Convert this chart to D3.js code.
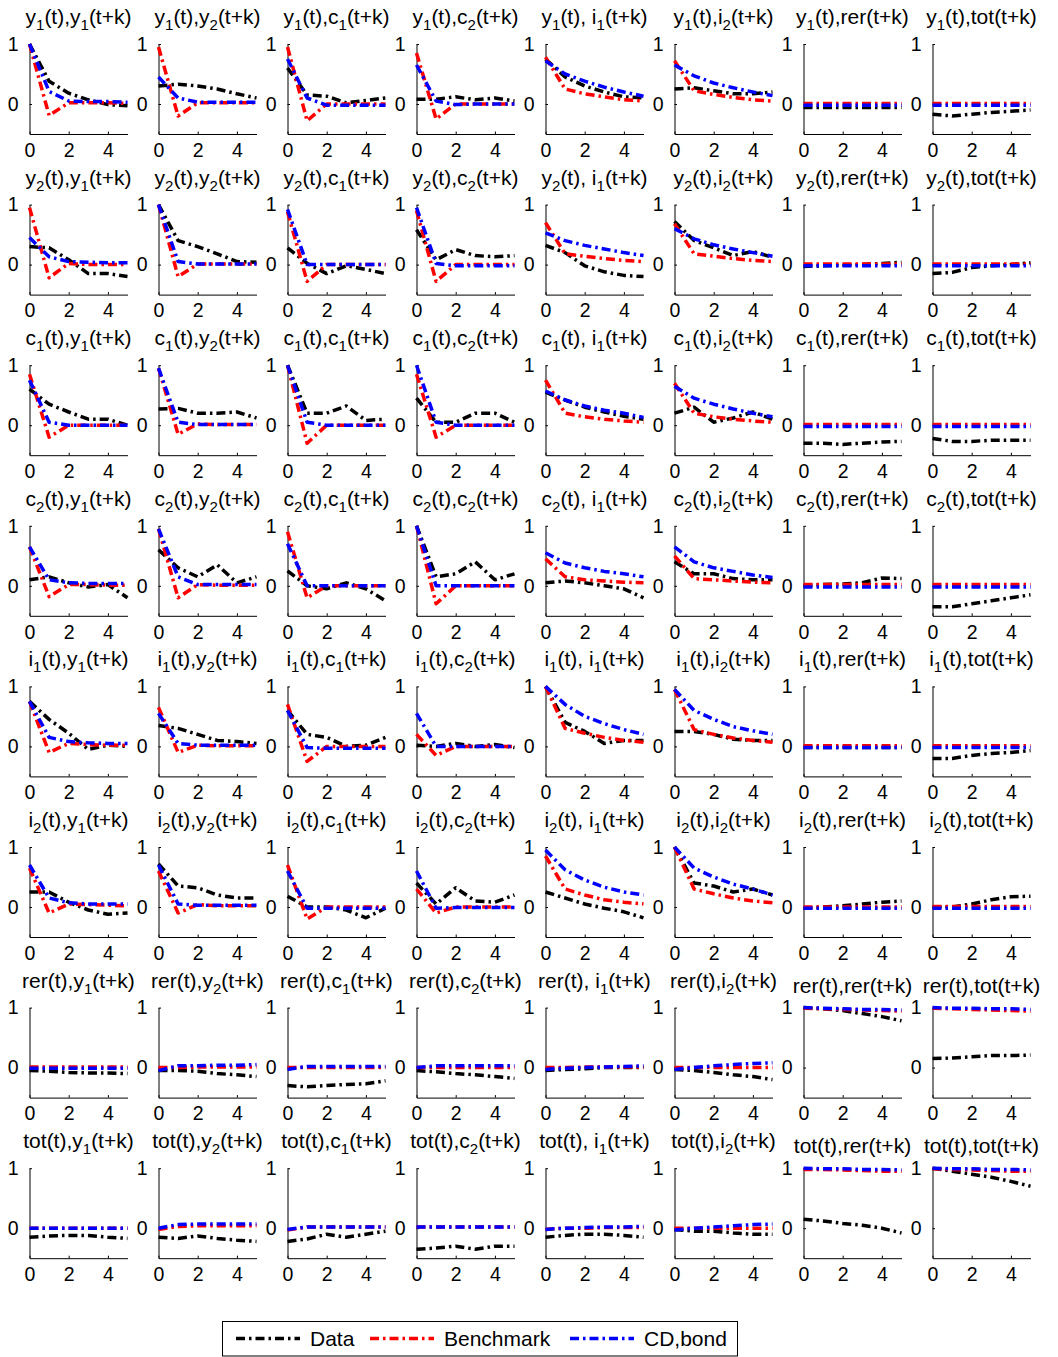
<!DOCTYPE html>
<html><head><meta charset="utf-8">
<script src="https://cdn.jsdelivr.net/npm/d3@7/dist/d3.min.js"></script>
<style>body{margin:0;background:#fff}svg{display:block}text{font-family:"Liberation Sans",Arial,Helvetica,sans-serif}</style>
</head><body><svg id="c" width="1058" height="1357"></svg>
<script>
const varBase = ["y","y","c","c","i","i","rer","tot"];
const varSub  = ["1","2","1","2","1","2","",""];
const kSteps = [0,1,2,3,4,5];
const xTicks = [0,2,4];
const yTicks = [0,1];
const seriesNames = ["Data","Benchmark","CD,bond"];
const seriesColors = ["#000000","#ff0000","#0000ff"];

// Data (black) [row][col] -> values at k=0..5
const dataVals = [
 [[1,0.38,0.18,0.07,-0.01,-0.03],[0.3,0.33,0.3,0.25,0.17,0.1],[0.6,0.15,0.13,0.02,0.06,0.1],[0.08,0.08,0.12,0.07,0.1,0.05],[0.75,0.45,0.3,0.2,0.12,0.1],[0.25,0.27,0.22,0.17,0.17,0.2],[-0.06,-0.06,-0.06,-0.06,-0.06,-0.06],[-0.17,-0.2,-0.17,-0.14,-0.12,-0.1]],
 [[0.3,0.28,0.08,-0.15,-0.15,-0.2],[1,0.4,0.3,0.18,0.05,0.04],[0.28,0.02,-0.15,-0.02,-0.08,-0.15],[0.58,0.08,0.25,0.15,0.13,0.15],[0.32,0.2,-0.02,-0.12,-0.18,-0.2],[0.72,0.4,0.28,0.15,0.22,0.12],[-0.03,-0.02,-0.01,0,0.02,0.04],[-0.15,-0.13,-0.05,-0.02,0,0.03]],
 [[0.6,0.35,0.22,0.1,0.1,0],[0.27,0.28,0.2,0.2,0.22,0.12],[1,0.2,0.2,0.32,0.08,0.1],[0.45,0.05,0.05,0.2,0.2,0.05],[0.55,0.42,0.3,0.22,0.15,0.1],[0.2,0.3,0.05,0.12,0.22,0.1],[-0.3,-0.3,-0.32,-0.3,-0.28,-0.27],[-0.22,-0.27,-0.27,-0.25,-0.25,-0.25]],
 [[0.1,0.15,0.05,-0.02,0.02,-0.2],[0.6,0.3,0.15,0.35,0.05,0.15],[0.25,0,-0.05,0.05,-0.05,-0.25],[1,0.15,0.2,0.4,0.1,0.2],[0.05,0.08,0.05,0,-0.05,-0.2],[0.4,0.2,0.2,0.12,0.1,0.1],[0,0.02,0.03,0.05,0.13,0.12],[-0.35,-0.35,-0.3,-0.25,-0.2,-0.15]],
 [[0.75,0.45,0.22,-0.05,0.02,0],[0.35,0.3,0.2,0.1,0.08,0.05],[0.6,0.2,0.15,0,0.02,0.15],[0.02,0,0.05,0,0.03,-0.02],[1,0.4,0.25,0.05,0.1,0.1],[0.25,0.25,0.2,0.12,0.1,0.1],[-0.02,-0.02,-0.02,-0.02,-0.02,-0.02],[-0.2,-0.2,-0.15,-0.12,-0.1,-0.07]],
 [[0.25,0.25,0.08,-0.05,-0.12,-0.1],[0.72,0.35,0.32,0.2,0.15,0.15],[0.18,0,0,-0.05,-0.18,-0.02],[0.4,0.05,0.32,0.1,0.08,0.2],[0.25,0.15,0.05,-0.02,-0.08,-0.18],[1,0.4,0.35,0.25,0.3,0.2],[-0.02,0,0.02,0.05,0.08,0.1],[0,0,0.05,0.12,0.17,0.18]],
 [[-0.05,-0.06,-0.08,-0.09,-0.09,-0.1],[-0.05,-0.05,-0.06,-0.1,-0.12,-0.15],[-0.3,-0.32,-0.3,-0.28,-0.27,-0.22],[-0.05,-0.07,-0.1,-0.12,-0.15,-0.18],[-0.05,-0.03,-0.02,0,0,0],[-0.03,-0.05,-0.08,-0.12,-0.15,-0.2],[1,0.98,0.95,0.9,0.85,0.78],[0.15,0.16,0.18,0.2,0.2,0.21]],
 [[-0.15,-0.13,-0.12,-0.12,-0.15,-0.17],[-0.15,-0.17,-0.13,-0.17,-0.2,-0.22],[-0.22,-0.18,-0.1,-0.15,-0.1,-0.05],[-0.35,-0.33,-0.3,-0.35,-0.3,-0.3],[-0.15,-0.12,-0.1,-0.1,-0.12,-0.15],[-0.02,-0.05,-0.05,-0.08,-0.1,-0.1],[0.15,0.12,0.08,0.05,0,-0.08],[1,0.95,0.9,0.85,0.78,0.7]]
];
// Benchmark (red)
const benchVals = [
 [[1,-0.19,0.02,0.02,0.02,0.01],[0.95,-0.2,0.02,0.02,0.02,0.02],[0.95,-0.28,0,0,0,0],[0.85,-0.25,0,0,0,0],[0.78,0.25,0.17,0.12,0.07,0.05],[0.72,0.22,0.16,0.11,0.07,0.05],[0.01,0.01,0.01,0.01,0.01,0.01],[0.01,0.01,0.01,0.01,0.01,0.01]],
 [[0.95,-0.22,0.02,0,0,0],[1,-0.2,0.01,0.01,0.01,0.01],[0.88,-0.28,0,0,0,0],[0.9,-0.28,0,0,0,0],[0.7,0.18,0.14,0.1,0.07,0.05],[0.68,0.18,0.14,0.1,0.07,0.05],[0.01,0.01,0.01,0.01,0.01,0.01],[0.01,0.01,0.01,0.01,0.01,0.01]],
 [[0.85,-0.2,0,0,0,0],[0.95,-0.15,0.02,0.01,0.01,0.01],[1,-0.3,0,0,0,0],[0.85,-0.2,0,0,0,0],[0.75,0.2,0.14,0.1,0.07,0.05],[0.7,0.2,0.14,0.1,0.07,0.05],[0.01,0.01,0.01,0.01,0.01,0.01],[0.01,0.01,0.01,0.01,0.01,0.01]],
 [[0.65,-0.18,0.02,0.02,0.01,0.01],[0.95,-0.2,0.02,0.01,0.01,0.01],[0.9,-0.2,0,0,0,0],[1,-0.3,0,0,0,0],[0.45,0.15,0.1,0.08,0.06,0.05],[0.5,0.12,0.1,0.08,0.06,0.05],[0.02,0.02,0.02,0.02,0.02,0.02],[0.02,0.02,0.02,0.02,0.02,0.02]],
 [[0.75,-0.1,0.05,0.03,0.02,0.02],[0.65,-0.1,0.02,0.01,0.01,0.01],[0.7,-0.25,0,0,0,0],[0.2,-0.15,0,0,0,0],[1,0.3,0.22,0.15,0.1,0.07],[0.95,0.28,0.2,0.14,0.1,0.07],[0.01,0.01,0.01,0.01,0.01,0.01],[0.01,0.01,0.01,0.01,0.01,0.01]],
 [[0.65,-0.1,0.05,0.04,0.03,0.02],[0.6,-0.1,0.04,0.02,0.02,0.02],[0.7,-0.2,0,0,0,0],[0.3,-0.1,0,0,0,0],[0.85,0.3,0.2,0.12,0.08,0.05],[1,0.3,0.22,0.15,0.1,0.07],[0,0,0,0,0,0],[0.01,0.01,0.01,0.01,0.01,0.01]],
 [[0.01,0.01,0.01,0.01,0.01,0.01],[0,0,0.01,0.01,0.01,0.01],[0,0,0,0,0,0],[0,0,0,0,0,0],[0,0,0.01,0.01,0.01,0.01],[0,0,0,0,0,0],[0.99,0.98,0.97,0.96,0.95,0.94],[0.99,0.98,0.97,0.96,0.95,0.94]],
 [[0,0,0,0,0,0],[-0.02,0.03,0.04,0.04,0.04,0.04],[-0.03,0.02,0.02,0.02,0.02,0.02],[0.02,0.02,0.02,0.02,0.02,0.02],[-0.02,0,0,0.01,0.01,0.01],[0,0,0,0,0,0],[0.98,0.98,0.97,0.96,0.95,0.95],[0.99,0.98,0.97,0.96,0.95,0.95]]
];
// CD,bond (blue)
const cdVals = [
 [[1,0.21,0.05,0.04,0.04,0.03],[0.45,0.1,0.03,0.03,0.03,0.03],[0.75,0.1,-0.02,-0.02,-0.02,-0.02],[0.65,0.05,-0.01,0,0,0],[0.72,0.5,0.38,0.28,0.2,0.13],[0.65,0.47,0.35,0.27,0.2,0.14],[-0.02,-0.02,-0.02,-0.02,-0.02,-0.02],[-0.02,-0.02,-0.02,-0.02,-0.02,-0.02]],
 [[0.45,0.13,0.05,0.04,0.03,0.03],[1,0.05,0.01,0.01,0.01,0.01],[0.92,0,0,0,0,0],[0.95,0.02,-0.02,-0.02,-0.02,-0.02],[0.53,0.4,0.32,0.26,0.2,0.15],[0.6,0.43,0.33,0.26,0.2,0.14],[-0.02,-0.02,-0.02,-0.02,-0.02,-0.02],[-0.02,-0.02,-0.02,-0.02,-0.02,-0.02]],
 [[0.75,0.05,0,0,0,0],[0.95,0.05,0.01,0.01,0.01,0.01],[1,0.05,0,0,0,0],[1,0.05,0,0,0,0],[0.57,0.42,0.32,0.25,0.2,0.13],[0.65,0.45,0.35,0.27,0.2,0.14],[-0.02,-0.02,-0.02,-0.02,-0.02,-0.02],[-0.02,-0.02,-0.02,-0.02,-0.02,-0.02]],
 [[0.65,0.1,0.05,0.04,0.04,0.04],[0.95,0.15,0.02,0.02,0.02,0.02],[0.7,0,0,0,0,0],[1,0,0,0,0,0],[0.55,0.38,0.3,0.24,0.2,0.15],[0.65,0.4,0.3,0.24,0.18,0.14],[-0.02,-0.02,-0.02,-0.02,-0.02,-0.02],[-0.02,-0.02,-0.02,-0.02,-0.02,-0.02]],
 [[0.75,0.15,0.08,0.06,0.05,0.05],[0.55,0.05,0.02,0.02,0.02,0.02],[0.6,-0.02,-0.03,-0.03,-0.03,-0.03],[0.55,0,0,0,0,0],[1,0.7,0.5,0.38,0.28,0.2],[0.95,0.6,0.45,0.33,0.26,0.2],[-0.02,-0.02,-0.02,-0.02,-0.02,-0.02],[-0.02,-0.02,-0.02,-0.02,-0.02,-0.02]],
 [[0.7,0.15,0.07,0.05,0.05,0.05],[0.7,0.05,0.03,0.03,0.03,0.03],[0.6,-0.02,-0.02,-0.02,-0.02,-0.02],[0.6,-0.02,-0.01,-0.01,-0.01,-0.01],[0.95,0.62,0.45,0.33,0.25,0.2],[1,0.65,0.5,0.38,0.3,0.2],[-0.02,-0.02,-0.02,-0.02,-0.02,-0.02],[-0.02,-0.02,-0.02,-0.02,-0.02,-0.02]],
 [[-0.01,-0.01,-0.01,-0.01,-0.01,-0.01],[-0.05,0.03,0.03,0.04,0.04,0.05],[-0.03,0.02,0.02,0.02,0.02,0.02],[0,0.03,0.03,0.03,0.03,0.03],[-0.03,-0.01,0,0.01,0.02,0.03],[-0.03,0,0.03,0.05,0.07,0.08],[1,0.99,0.98,0.97,0.97,0.96],[1,0.99,0.99,0.98,0.98,0.97]],
 [[0,0,0,0,0,0],[0,0.06,0.07,0.07,0.07,0.07],[-0.02,0.02,0.02,0.02,0.02,0.02],[0.02,0.02,0.02,0.02,0.02,0.02],[-0.02,0,0.01,0.02,0.02,0.03],[-0.03,0,0.02,0.04,0.06,0.07],[1,0.99,0.99,0.98,0.98,0.97],[1,0.99,0.99,0.98,0.98,0.97]]
];
const allSeries = [dataVals, benchVals, cdVals];

const svg = d3.select("#c");
const colX0 = 29.5, colStep = 129, panelW = 98;
const rowY0 = 44, rowStep = 160.6, panelH = 90;
const dash = "9,4,2.5,4";
const fmt = d3.format("d");

for (let r = 0; r < 8; r++) {
  for (let c = 0; c < 8; c++) {
    const x0 = colX0 + c * colStep, top = rowY0 + r * rowStep;
    const x = d3.scaleLinear().domain([0, 5]).range([x0, x0 + panelW]);
    const y = d3.scaleLinear().domain([-0.5, 1]).range([top + panelH, top]);
    const g = svg.append("g");
    const ax = g.append("g").attr("transform", `translate(0,${top + panelH})`)
      .call(d3.axisBottom(x).tickValues(xTicks).tickFormat(fmt).tickSizeInner(-2.5).tickSizeOuter(0).tickPadding(9));
    const ay = g.append("g").attr("transform", `translate(${x0},0)`)
      .call(d3.axisLeft(y).tickValues(yTicks).tickFormat(fmt).tickSizeInner(-2.5).tickSizeOuter(0).tickPadding(11));
    [ax, ay].forEach(a => {
      a.select(".domain").attr("stroke", "#000").attr("stroke-width", 1);
      a.selectAll(".tick line").attr("stroke", "#000");
      a.selectAll("text").attr("fill", "#000").style("font-size", "19.5px").style("font-family", '"Liberation Sans",Arial,sans-serif');
    });
    const line = d3.line().x((d, i) => x(kSteps[i])).y(d => y(d));
    allSeries.forEach((S, si) => {
      g.append("path").datum(S[r][c]).attr("d", line).attr("fill", "none")
        .attr("stroke", seriesColors[si]).attr("stroke-width", 3.5)
        .attr("stroke-dasharray", dash).attr("stroke-linejoin", "round");
    });
    const hasSub = varSub[r] !== "" || varSub[c] !== "";
    const t = g.append("text").attr("x", x0 + panelW / 2).attr("y", hasSub ? top - 20 : top - 15)
      .attr("text-anchor", "middle").style("font-size", "21px").attr("fill", "#000");
    const parts = [[varBase[r], 0], [varSub[r], 1], ["(t),", 0], [(c === 4 ? " " : "") + varBase[c], 0], [varSub[c], 1], ["(t+k)", 0]];
    let shifted = false;
    parts.forEach(([txt, sub]) => {
      if (txt === "") return;
      const ts = t.append("tspan").text(txt).attr("xml:space", "preserve");
      if (sub) { ts.style("font-size", "15px").attr("dy", 6); shifted = true; }
      else if (shifted) { ts.attr("dy", -6); shifted = false; }
    });
  }
}

const lg = svg.append("g");
lg.append("rect").attr("x", 222.5).attr("y", 1321.5).attr("width", 515).attr("height", 34.5)
  .attr("fill", "#fff").attr("stroke", "#000").attr("stroke-width", 1);
const legX = [236, 370, 570];
const legScale = d3.scaleOrdinal().domain(seriesNames).range(legX);
seriesNames.forEach((n, i) => {
  const lx = legScale(n);
  lg.append("line").attr("x1", lx).attr("x2", lx + 64).attr("y1", 1338.5).attr("y2", 1338.5)
    .attr("stroke", seriesColors[i]).attr("stroke-width", 3.5).attr("stroke-dasharray", dash);
  lg.append("text").attr("x", lx + 74).attr("y", 1346).text(n).style("font-size", "21px").attr("fill", "#000");
});
</script></body></html>
